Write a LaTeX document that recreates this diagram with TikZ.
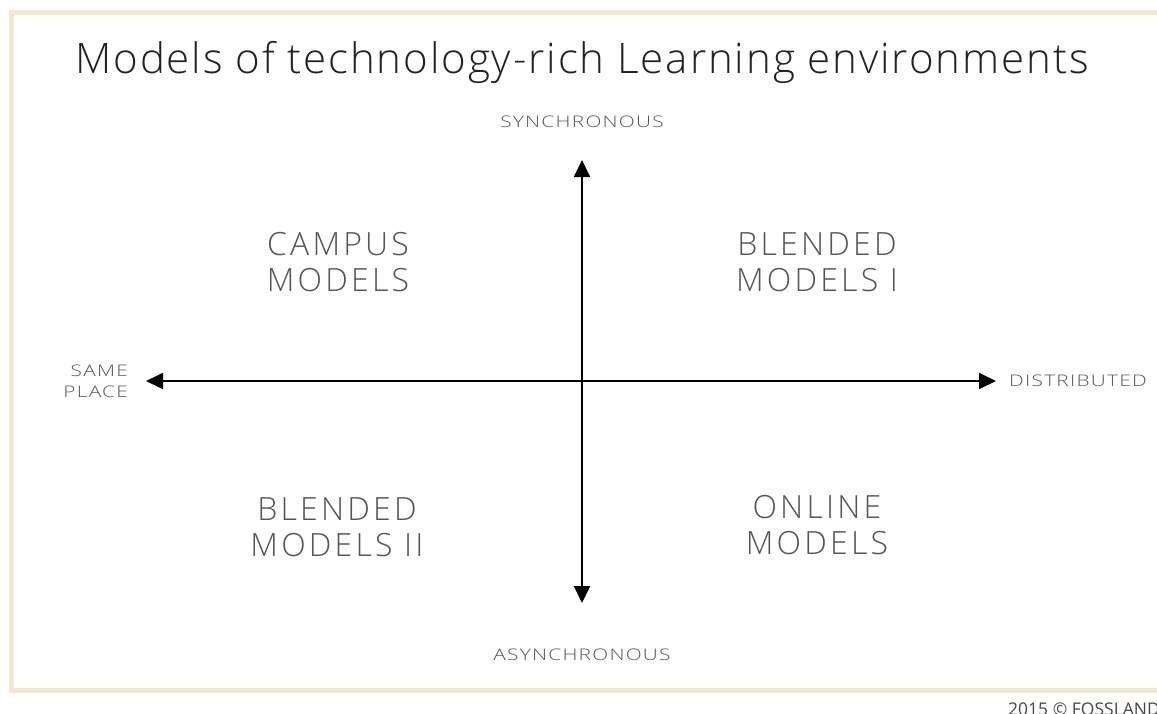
\documentclass[tikz,border=0pt]{standalone}
\usepackage{fontspec}
\setmainfont{Open Sans}[UprightFont=* Light]
\newfontfamily\osreg{Open Sans}
\usetikzlibrary{arrows.meta}
\definecolor{framec}{RGB}{240,232,208}
\definecolor{labc}{RGB}{85,85,85}
\definecolor{titc}{RGB}{34,34,34}
\tikzset{
  quad/.style={text=labc, font=\fontsize{32}{36}\selectfont\addfontfeature{LetterSpace=10}, align=center, inner sep=0pt},
  axlab/.style={text=labc, font=\fontsize{16}{21}\selectfont\addfontfeature{FakeStretch=1.3,LetterSpace=8}, inner sep=0pt},
  axis/.style={line width=1.8pt, -{Triangle[length=17pt,width=16pt]}},
}
\begin{document}
\begin{tikzpicture}[x=1pt,y=-1pt]
\useasboundingbox (0,0) rectangle (1157,713);
\fill[white] (0,0) rectangle (1157,713);
\begin{scope}
\clip (0,0) rectangle (1157,713);
\draw[framec, line width=5pt] (11,12) rectangle (1175,690);
\end{scope}
\node[text=titc, font=\fontsize{42}{50}\selectfont\addfontfeature{LetterSpace=4.5}, inner sep=0pt] (title) at (582,62) {Models of technology-rich Learning environments};
\coordinate (c) at (582,381);
\coordinate (top) at (582,160);
\coordinate (bot) at (582,603);
\coordinate (left) at (146,381);
\coordinate (right) at (996,381);
\draw[axis] (c) -- (top);
\draw[axis] (c) -- (bot);
\draw[axis] (c) -- (left);
\draw[axis] (c) -- (right);
\node[axlab] (sync) at (582,122) {SYNCHRONOUS};
\node[axlab] (async) at (582,655) {ASYNCHRONOUS};
\node[axlab, align=right, anchor=east] (same) at (128,381) {SAME\\PLACE};
\node[axlab, anchor=west] (dist) at (1009,381) {DISTRIBUTED};
\node[quad] (campus) at (338,262) {CAMPUS\\MODELS};
\node[quad] (bl1) at (817,262) {BLENDED\\MODELS I};
\node[quad] (bl2) at (337,527) {BLENDED\\MODELS II};
\node[quad] (online) at (817,525) {ONLINE\\MODELS};
\node[text=labc!85!black, font=\osreg\fontsize{17.5}{20}\selectfont, anchor=base west, inner sep=0pt] (copy) at (1008,715) {2015 © FOSSLAND};
\end{tikzpicture}
\end{document}
